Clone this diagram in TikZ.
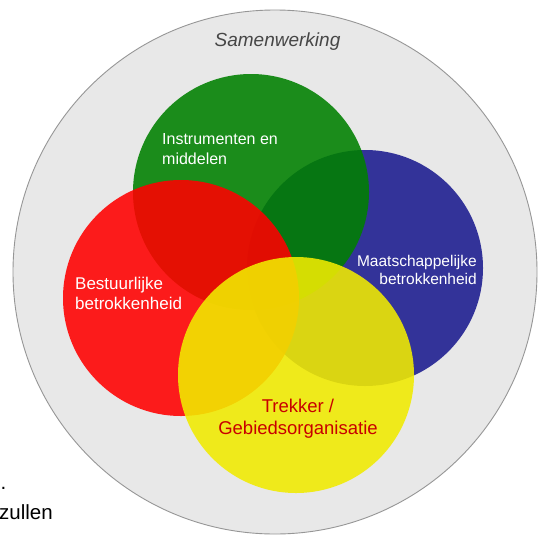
\documentclass[tikz,border=0pt]{standalone}
\usepackage{fontspec}
\setmainfont{Liberation Sans}
\definecolor{bgring}{RGB}{232,232,232}
\definecolor{ringline}{RGB}{150,150,150}
\definecolor{cgreen}{RGB}{0,128,0}
\definecolor{cblue}{RGB}{27,27,143}
\definecolor{cred}{RGB}{255,0,0}
\definecolor{cyellow}{RGB}{241,235,0}
\definecolor{trektxt}{RGB}{200,0,0}
\definecolor{samtxt}{RGB}{70,70,70}
\begin{document}
\begin{tikzpicture}[x=1pt,y=-1pt,
  blob/.style={fill opacity=0.884, draw=none},
  wlabel/.style={inner sep=0pt, text=white, font=\fontsize{16}{19}\selectfont},
  tlabel/.style={inner sep=0pt, text=trektxt, font=\fontsize{18.5}{22}\selectfont},
  side/.style={inner sep=0pt, text=black, font=\fontsize{20.5}{24}\selectfont}]
\useasboundingbox (0,0) rectangle (540,536);
\fill[white] (0,0) rectangle (540,536);
% outer circle
\filldraw[fill=bgring, draw=ringline, line width=0.9pt] (275,272) circle[radius=262];
\node[inner sep=0pt, anchor=base, text=samtxt, font=\fontsize{19}{22}\selectfont\itshape] (sam) at (277.5,46) {Samenwerking};
% circles
\fill[blob, cblue] (365,268) circle[radius=118];
\fill[blob, cgreen] (251,192) circle[radius=118];
\fill[blob, cred] (181,298) circle[radius=118];
\fill[blob, cyellow] (296,375) circle[radius=118];
% labels
\node[wlabel, anchor=base west] (instr1) at (162,144) {Instrumenten en};
\node[wlabel, anchor=base west] (instr2) at (162,164) {middelen};
\node[wlabel, anchor=base west, font=\fontsize{17}{20}\selectfont] (best1) at (75,289) {Bestuurlijke};
\node[wlabel, anchor=base west, font=\fontsize{17}{20}\selectfont] (best2) at (75,309) {betrokkenheid};
\node[wlabel, anchor=base east, font=\fontsize{15.5}{19}\selectfont] (maat1) at (477,266) {Maatschappelijke};
\node[wlabel, anchor=base east, font=\fontsize{15.5}{19}\selectfont] (maat2) at (477,284) {betrokkenheid};
\node[tlabel, anchor=base] (trek1) at (298,412) {Trekker /};
\node[tlabel, anchor=base] (trek2) at (298,434) {Gebiedsorganisatie};
% cut-off side text
\node[side, anchor=base west] (dot) at (0.5,489) {.};
\node[side, anchor=base west] (zullen) at (-1,519) {zullen};
\end{tikzpicture}
\end{document}
